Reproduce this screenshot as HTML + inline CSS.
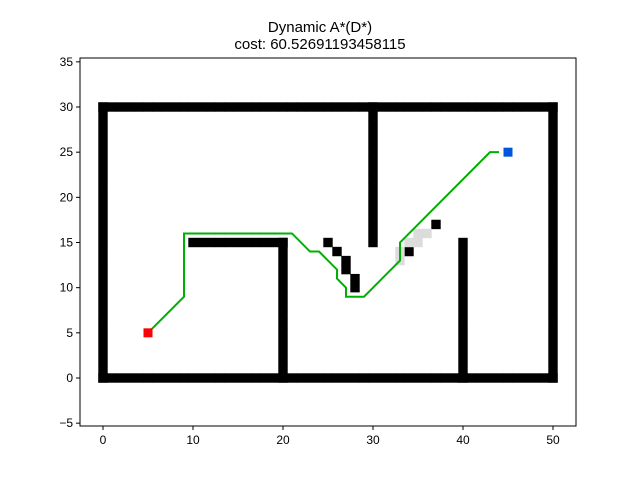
<!DOCTYPE html>
<html><head><meta charset="utf-8"><style>
body{margin:0;background:#fff}
svg{font-family:"Liberation Sans","DejaVu Sans",sans-serif}
</style></head><body>
<svg id="chart" width="640" height="480" viewBox="0 0 640 480">
<rect width="640" height="480" fill="#fff"/>
<text x="320" y="32" text-anchor="middle" font-size="15">Dynamic A*(D*)</text>
<text x="320" y="49" text-anchor="middle" font-size="15">cost: 60.52691193458115</text>
<g id="obs"></g>
<g id="gray"></g>
<g id="marks"></g>
<rect x="80" y="58" width="496" height="368" fill="none" stroke="#000" stroke-width="1"/>
<g id="axes"></g>
</svg>
<script>
const xTicks=[0,10,20,30,40,50];
const yTicks=[-5,0,5,10,15,20,25,30,35];
const pathX=[5,9,9,21,23,24,26,26,27,27,29,33,33,43,44];
const pathY=[5,9,16,16,14,14,12,11,10,9,9,13,15,25,25];
const extraObsX=[25,26,27,27,28,28,34,37];
const extraObsY=[15,14,13,12,11,10,14,17];
const grayX=[33,33,34,35,35,36];
const grayY=[13,14,15,15,16,16];
const startPt=[5,5];
const goalPt=[45,25];
const X=v=>103+v*9;
const Y=v=>378-v*9.033;
const NS="http://www.w3.org/2000/svg";
function mk(tag,attrs,parent){const e=document.createElementNS(NS,tag);for(const k in attrs)e.setAttribute(k,attrs[k]);parent.appendChild(e);return e;}
const obs=document.getElementById('obs');
const wallX=[],wallY=[];
for(let i=0;i<=50;i++){wallX.push(i,i);wallY.push(0,30);}
for(let j=0;j<=30;j++){wallX.push(0,50);wallY.push(j,j);}
for(let j=0;j<=15;j++){wallX.push(20,40);wallY.push(j,j);}
for(let j=15;j<=30;j++){wallX.push(30);wallY.push(j);}
for(let i=10;i<=20;i++){wallX.push(i);wallY.push(15);}
const allX=wallX.concat(extraObsX),allY=wallY.concat(extraObsY);
const grayG=document.getElementById('gray');
for(let i=0;i<grayX.length;i++){
 const r=mk('rect',{x:X(grayX[i])-4.7,y:Y(grayY[i])-4.7,width:9.4,height:9.4,fill:'#dcdcdc'},grayG);
 
 
}
for(let i=0;i<allX.length;i++){
 const r=mk('rect',{x:X(allX[i])-4.7,y:Y(allY[i])-4.7,width:9.4,height:9.4,fill:'#000'},obs);
 
 
}
const marks=document.getElementById('marks');
const pl=mk('polyline',{points:pathX.map((v,i)=>X(v)+','+Y(pathY[i])).join(' '),fill:'none',stroke:'#00b000',"stroke-width":2},marks);


const s=mk('rect',{x:X(startPt[0])-4.5,y:Y(startPt[1])-4.5,width:9,height:9,fill:'#ff0000'},marks);


const g=mk('rect',{x:X(goalPt[0])-4.5,y:Y(goalPt[1])-4.5,width:9,height:9,fill:'#0055dd'},marks);


const ax=document.getElementById('axes');
xTicks.forEach(t=>{
 mk('line',{x1:X(t),x2:X(t),y1:426,y2:430,stroke:'#000'},ax);
 const tx=mk('text',{x:X(t),y:444,"text-anchor":"middle","font-size":"12"},ax);
 tx.textContent=t;
 
 
});
yTicks.forEach(t=>{
 mk('line',{x1:76,x2:80,y1:Y(t),y2:Y(t),stroke:'#000'},ax);
 const tx=mk('text',{x:73,y:Y(t)+4,"text-anchor":"end","font-size":"12"},ax);
 tx.textContent=t<0?'\u2212'+(-t):t;
 
 
});
</script>
</body></html>
